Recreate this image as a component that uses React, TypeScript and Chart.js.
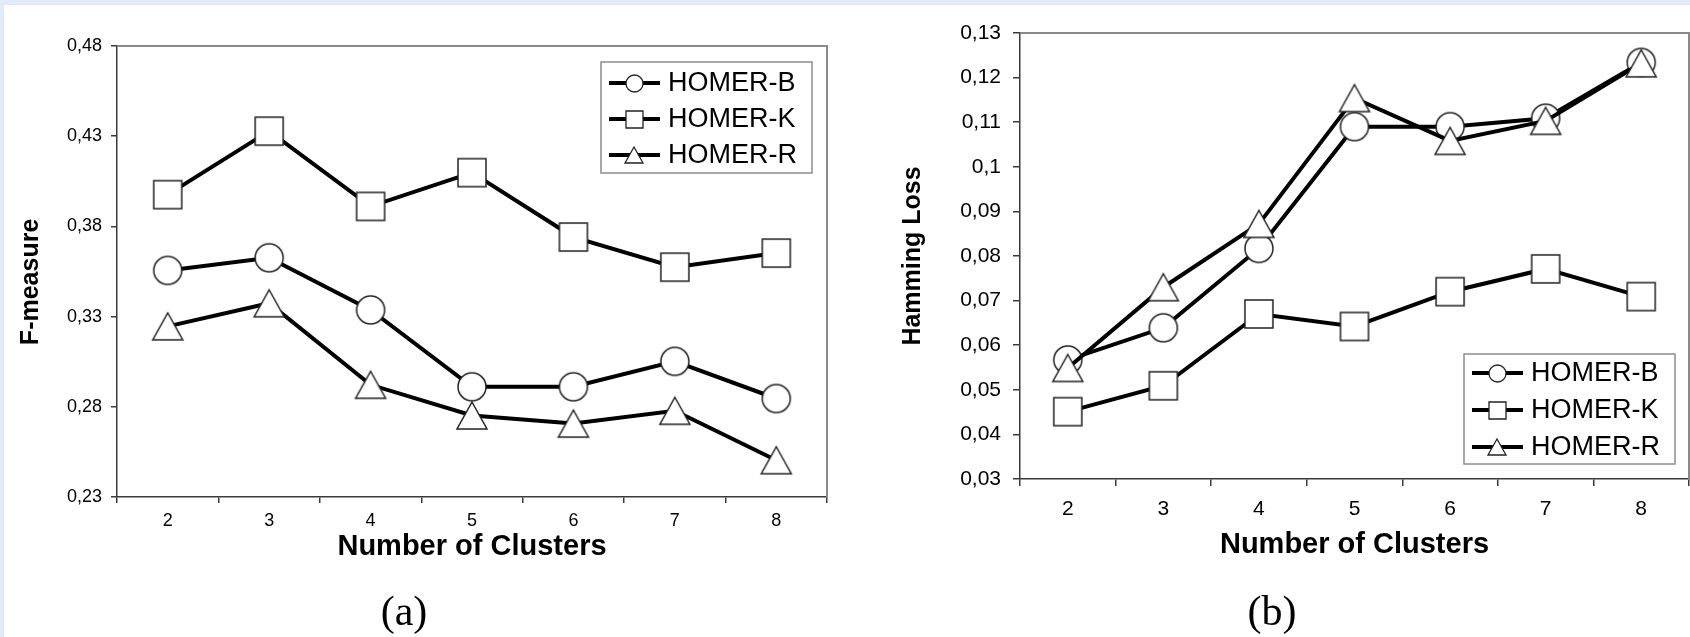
import React, { useEffect, useRef } from 'react';
import { Chart, registerables } from 'chart.js';

Chart.register(...registerables);

// ---------- data ----------
const categories = ['2', '3', '4', '5', '6', '7', '8'];
const seriesNames = ['HOMER-B', 'HOMER-K', 'HOMER-R'];

const fmeasureB = [0.3556, 0.3626, 0.3337, 0.2911, 0.2911, 0.3052, 0.2846];
const fmeasureK = [0.3976, 0.4328, 0.3911, 0.4098, 0.3741, 0.3574, 0.3652];
const fmeasureR = [0.3246, 0.3374, 0.2922, 0.2752, 0.2707, 0.2778, 0.2504];

const hammingB = [0.0567, 0.0639, 0.0817, 0.109, 0.109, 0.1109, 0.1234];
const hammingK = [0.0451, 0.0509, 0.067, 0.0642, 0.072, 0.0771, 0.0709];
const hammingR = [0.0549, 0.073, 0.0872, 0.1154, 0.1058, 0.1103, 0.1232];

const fTickValues = [0.23, 0.28, 0.33, 0.38, 0.43, 0.48];
const fTickLabels = ['0,23', '0,28', '0,33', '0,38', '0,43', '0,48'];
const hTickValues = [0.03, 0.04, 0.05, 0.06, 0.07, 0.08, 0.09, 0.1, 0.11, 0.12, 0.13];
const hTickLabels = ['0,03', '0,04', '0,05', '0,06', '0,07', '0,08', '0,09', '0,1', '0,11', '0,12', '0,13'];

const FONT = "'Liberation Sans', Arial, sans-serif";

// ---------- marker images ----------
function makeMarker(kind: string, w: number, h: number, lw: number): HTMLCanvasElement {
  const pad = 2;
  const c = document.createElement('canvas');
  c.width = Math.ceil(w + pad * 2);
  c.height = Math.ceil(h + pad * 2);
  const ctx = c.getContext('2d')!;
  const cx = c.width / 2;
  const cy = c.height / 2;
  ctx.fillStyle = '#ffffff';
  ctx.strokeStyle = '#222222';
  ctx.lineWidth = lw;
  ctx.beginPath();
  if (kind === 'circle') {
    ctx.arc(cx, cy, w / 2, 0, Math.PI * 2);
  } else if (kind === 'rect') {
    ctx.rect(cx - w / 2, cy - h / 2, w, h);
  } else {
    ctx.moveTo(cx, cy - h / 2);
    ctx.lineTo(cx + w / 2, cy + h / 2);
    ctx.lineTo(cx - w / 2, cy + h / 2);
    ctx.closePath();
  }
  ctx.fill();
  ctx.stroke();
  return c;
}

function chartMarkers() {
  return [
    makeMarker('circle', 28, 28, 1.5),
    makeMarker('rect', 28, 28, 1.5),
    makeMarker('triangle', 30, 27, 1.5),
  ];
}
function legendMarkers() {
  return [
    makeMarker('circle', 17, 17, 1.3),
    makeMarker('rect', 17, 17, 1.3),
    makeMarker('triangle', 18, 16, 1.3),
  ];
}

// ---------- plugins ----------
const framePlugin = {
  id: 'plotFrame',
  beforeDatasetsDraw(chart: any) {
    const { ctx, chartArea: a } = chart;
    ctx.save();
    ctx.strokeStyle = '#8a8a8a';
    ctx.lineWidth = 2;
    ctx.beginPath();
    ctx.moveTo(a.left, a.top);
    ctx.lineTo(a.right, a.top);
    ctx.lineTo(a.right, a.bottom);
    ctx.stroke();
    ctx.restore();
  },
};

function makeLegendPlugin(box: { dx: number; dy: number; w: number; h: number; row0: number; gap: number }, imgs: HTMLCanvasElement[]) {
  return {
    id: 'insetLegend',
    afterDatasetsDraw(chart: any) {
      const { ctx, chartArea } = chart;
      const x = chartArea.left + box.dx;
      const y = chartArea.top + box.dy;
      ctx.save();
      ctx.fillStyle = '#ffffff';
      ctx.fillRect(x, y, box.w, box.h);
      ctx.strokeStyle = '#8c8c8c';
      ctx.lineWidth = 1.5;
      ctx.strokeRect(x, y, box.w, box.h);
      chart.data.datasets.forEach((ds: any, i: number) => {
        const ry = y + box.row0 + i * box.gap;
        ctx.strokeStyle = '#000';
        ctx.lineWidth = 4;
        ctx.beginPath();
        ctx.moveTo(x + 8, ry);
        ctx.lineTo(x + 59, ry);
        ctx.stroke();
        const img = imgs[i];
        ctx.drawImage(img, Math.round(x + 33 - img.width / 2), Math.round(ry - img.height / 2));
        ctx.fillStyle = '#000';
        ctx.font = `27px ${FONT}`;
        ctx.textBaseline = 'middle';
        ctx.textAlign = 'left';
        ctx.fillText(ds.label, x + 67, ry + 1);
      });
      ctx.restore();
    },
  };
}

// ---------- config ----------
type Cfg = {
  series: number[][];
  tickValues: number[];
  tickLabels: string[];
  yTitle: string;
  yTitleSize: number;
  yTitlePad: number;
  yWidth: number;
  xHeight: number;
  padding: { left: number; top: number; right: number; bottom: number };
  tickSize: number;
  tickLen: number;
  yTickPad: number;
  xTickPad: number;
  xTitlePadBottom: number;
};

function buildConfig(p: Cfg, markers: HTMLCanvasElement[], legendPlugin: any): any {
  const axisColor = '#3a3a3a';
  return {
    type: 'line',
    data: {
      labels: categories,
      datasets: seriesNames.map((name, i) => ({
        label: name,
        data: p.series[i],
        borderColor: '#000',
        borderWidth: 4,
        pointStyle: markers[i],
        pointRadius: 14,
        pointHoverRadius: 14,
        tension: 0,
        fill: false,
        order: 2 - i,
        clip: false,
      })),
    },
    options: {
      responsive: false,
      animation: false,
      events: [],
      layout: { padding: p.padding, autoPadding: false },
      plugins: { legend: { display: false }, tooltip: { enabled: false } },
      scales: {
        x: {
          type: 'category',
          offset: true,
          grid: {
            offset: true,
            drawOnChartArea: false,
            drawTicks: true,
            tickLength: p.tickLen,
            color: axisColor,
            lineWidth: 1.5,
          },
          border: { display: true, color: axisColor, width: 1.5 },
          ticks: {
            color: '#000',
            font: { family: FONT, size: p.tickSize },
            padding: p.xTickPad,
            maxRotation: 0,
            autoSkip: false,
          },
          title: {
            display: true,
            text: 'Number of Clusters',
            color: '#000',
            font: { family: FONT, size: 29, weight: 'bold' },
            padding: { top: 0, bottom: p.xTitlePadBottom },
          },
          afterFit: (s: any) => {
            s.height = p.xHeight;
          },
        },
        y: {
          type: 'linear',
          min: p.tickValues[0],
          max: p.tickValues[p.tickValues.length - 1],
          afterBuildTicks: (s: any) => {
            s.ticks = p.tickValues.map((v) => ({ value: v }));
          },
          grid: {
            drawOnChartArea: false,
            drawTicks: true,
            tickLength: p.tickLen,
            color: axisColor,
            lineWidth: 1.5,
          },
          border: { display: true, color: axisColor, width: 1.5 },
          ticks: {
            color: '#000',
            font: { family: FONT, size: p.tickSize },
            padding: p.yTickPad,
            autoSkip: false,
            callback: (v: number) => {
              const idx = p.tickValues.findIndex((t) => Math.abs(t - v) < 1e-9);
              return idx >= 0 ? p.tickLabels[idx] : '';
            },
          },
          title: {
            display: true,
            text: p.yTitle,
            color: '#000',
            font: { family: FONT, size: p.yTitleSize, weight: 'bold' },
            padding: { top: p.yTitlePad, bottom: 0 },
          },
          afterFit: (s: any) => {
            s.width = p.yWidth;
          },
        },
      },
    },
    plugins: [framePlugin, legendPlugin],
  };
}

const leftCfg: Cfg = {
  series: [fmeasureB, fmeasureK, fmeasureR],
  tickValues: fTickValues,
  tickLabels: fTickLabels,
  yTitle: 'F-measure   ',
  yTitleSize: 25,
  yTitlePad: 16,
  yWidth: 117,
  xHeight: 140,
  padding: { left: 0, top: 46, right: 18, bottom: 0 },
  tickSize: 18,
  tickLen: 6,
  yTickPad: 9,
  xTickPad: 7,
  xTitlePadBottom: 73,
};

const rightCfg: Cfg = {
  series: [hammingB, hammingK, hammingR],
  tickValues: hTickValues,
  tickLabels: hTickLabels,
  yTitle: 'Hamming Loss',
  yTitleSize: 25,
  yTitlePad: 53,
  yWidth: 175,
  xHeight: 158,
  padding: { left: 0, top: 33, right: 1, bottom: 0 },
  tickSize: 21,
  tickLen: 7,
  yTickPad: 12,
  xTickPad: 11,
  xTitlePadBottom: 75,
};

function ChartPanel({ cfg, legendBox, left }: { cfg: Cfg; legendBox: any; left: number }) {
  const ref = useRef<HTMLCanvasElement | null>(null);
  useEffect(() => {
    if (!ref.current) return;
    const chart = new Chart(ref.current, buildConfig(cfg, chartMarkers(), makeLegendPlugin(legendBox, legendMarkers())));
    return () => chart.destroy();
  }, []);
  return (
    <canvas
      ref={ref}
      width={845}
      height={637}
      style={{ position: 'absolute', left, top: 0, width: 845, height: 637, display: 'block' }}
    />
  );
}

const captionStyle: React.CSSProperties = {
  position: 'absolute',
  width: 200,
  textAlign: 'center',
  fontFamily: "'Liberation Serif', 'DejaVu Serif', serif",
  fontSize: 42,
  lineHeight: '50px',
  color: '#000',
  top: 586,
};

export default function App() {
  return (
    <div style={{ position: 'absolute', left: 0, top: 0, width: 1690, height: 637, overflow: 'hidden', background: '#e3eaf7' }}>
      <div style={{ position: 'absolute', left: 4, top: 5, width: 1686, height: 632, background: '#ffffff' }} />
      <ChartPanel cfg={leftCfg} left={0} legendBox={{ dx: 484, dy: 16, w: 211, h: 111, row0: 21, gap: 36 }} />
      <ChartPanel cfg={rightCfg} left={845} legendBox={{ dx: 444, dy: 321, w: 211, h: 110, row0: 19, gap: 37 }} />
      <div style={{ ...captionStyle, left: 404 - 100 }}>(a)</div>
      <div style={{ ...captionStyle, left: 1272 - 100 }}>(b)</div>
    </div>
  );
}
